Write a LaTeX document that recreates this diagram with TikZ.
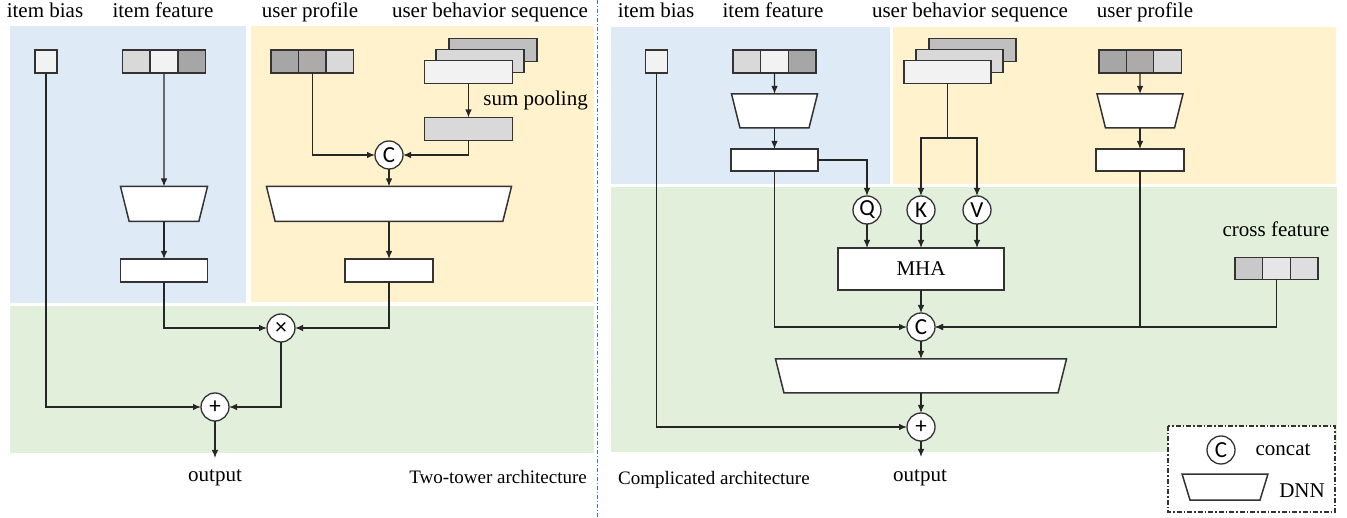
\documentclass[tikz,border=0pt]{standalone}
\usepackage{fontspec}
\setmainfont{Liberation Serif}
\newfontfamily\opfont{Carlito}
\usetikzlibrary{arrows.meta,shapes.geometric}

\definecolor{bgblue}{HTML}{DEEBF7}
\definecolor{bgyellow}{HTML}{FFF2CC}
\definecolor{bggreen}{HTML}{E2EFDA}
\definecolor{edge}{HTML}{333333}
\definecolor{sepblue}{HTML}{4472C4}
\definecolor{gwhite}{HTML}{F2F2F2}
\definecolor{glight}{HTML}{D9D9D9}
\definecolor{gmid}{HTML}{BFBFBF}
\definecolor{gwarm}{HTML}{AEAAAA}
\definecolor{gdark}{HTML}{A6A6A6}
\definecolor{gcrossA}{HTML}{C9C9C9}
\definecolor{gcrossB}{HTML}{E7E6E6}
\definecolor{gcrossC}{HTML}{DEDEDE}

\tikzset{
  lbl/.style={font=\fontsize{21}{24}\selectfont, inner sep=0pt},
  archname/.style={font=\fontsize{19}{22}\selectfont, inner sep=0pt},
  cell/.style={draw=edge, line width=1.5pt, minimum width=27.7pt, minimum height=23pt, inner sep=0pt, outer sep=0pt},
  blk/.style={draw=edge, line width=1.5pt, fill=white, inner sep=0pt, outer sep=0pt},
  % #1 = half the short side, #2 = half the height
  dnn/.style 2 args={trapezium, shape border rotate=180, trapezium angle=76,
    draw=edge, line width=1.5pt, fill=white, inner xsep=#1, inner ysep=#2, outer sep=0pt},
  op/.style={circle, draw=edge, line width=1.3pt, fill=white, minimum size=28pt, inner sep=0pt,
    outer sep=0pt, font=\opfont\fontsize{23}{23}\selectfont},
  wire/.style={line width=1.2pt, draw=black!85},
  conn/.style={wire, -{Latex[length=8pt,width=6.5pt]}},
}

\begin{document}
\begin{tikzpicture}[x=1pt,y=-1pt]
  \useasboundingbox (0,0) rectangle (1347,518);

  % backgrounds
  \fill[bgblue] (10,26) rectangle (246,303);
  \fill[bgyellow] (251,26) rectangle (594,302);
  \fill[bggreen] (10,306) rectangle (594,453);
  \fill[bgblue] (611,27) rectangle (890,184);
  \fill[bgyellow] (893,27) rectangle (1336,184);
  \fill[bggreen] (611,187) rectangle (1337,452);
  \draw[sepblue, line width=0.8pt, dash pattern=on 4pt off 2pt on 1pt off 2pt] (597,0) -- (597,518);

  % two-tower side
  \node[lbl, anchor=base] (lt1) at (45,18) {item bias};
  \node[lbl, anchor=base] (lt2) at (163,18) {item feature};
  \node[lbl, anchor=base] (lt3) at (310,18) {user profile};
  \node[lbl, anchor=base] (lt4) at (490,18) {user behavior sequence};

  \node[cell, fill=gwhite, minimum width=22pt] (lib) at (46,61.5) {};
  \foreach \col [count=\i] in {glight,gwhite,gdark}
    \node[cell, fill=\col] (lif\i) at ({122.5+27.7*(\i-0.5)},61.5) {};
  \foreach \col [count=\i] in {gdark,gwarm,glight}
    \node[cell, fill=\col] (lup\i) at ({271+27.5*(\i-0.5)},61.5) {};

  \node[blk, fill=gmid, minimum width=88pt, minimum height=23pt] (lseqb) at (493,50) {};
  \node[blk, fill=glight, minimum width=88pt, minimum height=23pt] (lseqm) at (480,61) {};
  \node[blk, fill=gwhite, minimum width=88pt, minimum height=23pt] (lseqf) at (468.5,72) {};
  \node[blk, fill=glight, minimum width=88pt, minimum height=23pt] (lsum) at (468.5,129) {};
  \node[lbl, anchor=base east] (lpool) at (588,106) {sum pooling};

  \node[op] (lcat) at (389,155) {C};
  \node[dnn={34.8pt}{17.5pt}] (ltrapi) at (164,204) {};
  \node[dnn={113.8pt}{17.5pt}] (ltrapu) at (389,204) {};
  \node[blk, minimum width=87pt, minimum height=23pt] (lrecti) at (164,270.5) {};
  \node[blk, minimum width=88pt, minimum height=23pt] (lrectu) at (389,270.5) {};
  \node[op] (ltimes) at (281,328) {×};
  \node[op] (lplus) at (215,407) {+};
  \coordinate (lend) at (215,458);
  \node[lbl, anchor=base] (lout) at (215,482) {output};
  \node[archname, anchor=base east] (lname) at (587,483) {Two-tower architecture};

  \draw[conn] (lseqf) -- (lsum);
  \draw[conn] (lup2) |- (lcat);
  \draw[conn] (lsum) |- (lcat);
  \draw[conn] (lif2) -- (ltrapi);
  \draw[conn] (ltrapi) -- (lrecti);
  \draw[conn] (lcat) -- (ltrapu);
  \draw[conn] (ltrapu) -- (lrectu);
  \draw[conn] (lrecti) |- (ltimes);
  \draw[conn] (lrectu) |- (ltimes);
  \draw[conn] (lib) |- (lplus);
  \draw[conn] (ltimes) |- (lplus);
  \draw[conn] (lplus) -- (lend);

  % attention side
  \node[lbl, anchor=base] (rt1) at (656,18) {item bias};
  \node[lbl, anchor=base] (rt2) at (773,18) {item feature};
  \node[lbl, anchor=base] (rt3) at (970,18) {user behavior sequence};
  \node[lbl, anchor=base] (rt4) at (1145,18) {user profile};

  \node[cell, fill=gwhite, minimum width=22pt] (rib) at (656.5,61.5) {};
  \foreach \col [count=\i] in {glight,gwhite,gdark}
    \node[cell, fill=\col] (rif\i) at ({733+27.7*(\i-0.5)},61.5) {};
  \foreach \col [count=\i] in {gdark,gwarm,glight}
    \node[cell, fill=\col] (rup\i) at ({1099+27.4*(\i-0.5)},61.5) {};

  \node[blk, fill=gmid, minimum width=87pt, minimum height=23pt] (rseqb) at (972.5,50) {};
  \node[blk, fill=glight, minimum width=87pt, minimum height=23pt] (rseqm) at (959.5,61) {};
  \node[blk, fill=gwhite, minimum width=87pt, minimum height=23pt] (rseqf) at (947.5,72) {};
  \coordinate (rsplit) at (947.5,138);

  \node[dnn={34.5pt}{17pt}] (rtrapi) at (774.5,111) {};
  \node[dnn={34.5pt}{17pt}] (rtrapu) at (1140,111) {};
  \node[blk, minimum width=87pt, minimum height=22pt] (rrecti) at (774.5,160) {};
  \node[blk, minimum width=88pt, minimum height=22pt] (rrectu) at (1140,160) {};

  \node[op] (rq) at (867,210) {Q};
  \node[op] (rk) at (921,210) {K};
  \node[op] (rv) at (977,210) {V};
  \node[blk, lbl, draw=edge, line width=1.5pt, minimum width=166pt, minimum height=42pt] (rmha) at (921,269) {MHA};

  \node[lbl, anchor=base] (rcross) at (1276,237) {cross feature};
  \foreach \col [count=\i] in {gcrossA,gcrossB,gcrossC}
    \node[cell, fill=\col, minimum height=22pt] (rcf\i) at ({1235+27.7*(\i-0.5)},268.5) {};

  \node[op] (rcat) at (921,327) {C};
  \node[dnn={137pt}{17pt}] (rtrapo) at (921,376) {};
  \node[op] (rplus) at (921,427) {+};
  \coordinate (rend) at (921,457);
  \node[lbl, anchor=base] (rout) at (920,482) {output};
  \node[archname, anchor=base west] (rname) at (618,484) {Complicated architecture};

  \draw[conn] (rif2) -- (rtrapi);
  \draw[conn] (rtrapi) -- (rrecti);
  \draw[conn] (rup2) -- (rtrapu);
  \draw[conn] (rtrapu) -- (rrectu);
  \draw[conn] (rrecti) -| (rq);
  \draw[wire] (rseqf) -- (rsplit);
  \draw[conn] (rsplit) -| (rk);
  \draw[conn] (rsplit) -| (rv);
  \draw[conn] (rq) -- (rq |- rmha.north);
  \draw[conn] (rk) -- (rk |- rmha.north);
  \draw[conn] (rv) -- (rv |- rmha.north);
  \draw[conn] (rmha) -- (rcat);
  \draw[conn] (rrecti) |- (rcat);
  \draw[conn] (rrectu) |- (rcat);
  \draw[conn] (rcf2) |- (rcat);
  \draw[conn] (rcat) -- (rtrapo);
  \draw[conn] (rtrapo) -- (rplus);
  \draw[conn] (rib) |- (rplus);
  \draw[conn] (rplus) -- (rend);

  % legend
  \draw[edge, fill=white, line width=1.2pt, dash pattern=on 5pt off 2pt on 1.5pt off 2pt] (1168,426) rectangle (1335,512);
  \node[op, fill=none] (kcat) at (1221,450) {C};
  \node[lbl, anchor=base] (kcatl) at (1283,455) {concat};
  \node[dnn={35pt}{13pt}, trapezium angle=73] (kdnn) at (1225,487) {};
  \node[lbl, anchor=base] (kdnnl) at (1302,497) {DNN};
\end{tikzpicture}
\end{document}
